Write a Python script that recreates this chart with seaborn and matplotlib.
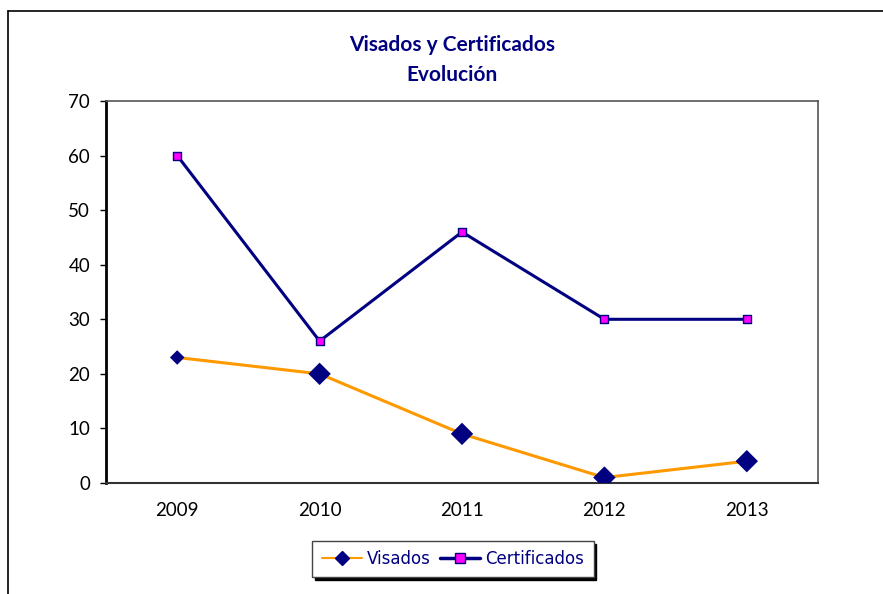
import matplotlib
matplotlib.use("Agg")
import matplotlib.pyplot as plt
import seaborn as sns
import pandas as pd
from matplotlib.lines import Line2D

years = ["2009", "2010", "2011", "2012", "2013"]
visados = [23, 20, 9, 1, 4]
certificados = [60, 26, 46, 30, 30]
visados_marker_sizes = [55, 130, 130, 130, 130]
yticks = [0, 10, 20, 30, 40, 50, 60, 70]

NAVY = "#000080"
ORANGE = "#FF9900"
MAGENTA = "#FF00FF"

sns.set_theme(style="white")
plt.rcParams["font.family"] = ["Lato", "DejaVu Sans"]

fig = plt.figure(figsize=(8.83, 5.94), dpi=100)
ax = fig.add_axes([106/883, 1-483/594, (818-106)/883, (483-101)/594])

df = pd.DataFrame({"year": years, "x": range(len(years)),
                   "Visados": visados, "Certificados": certificados,
                   "vs": visados_marker_sizes})

sns.lineplot(data=df, x="x", y="Certificados", ax=ax, color=NAVY, linewidth=2.2, zorder=3)
ax.scatter(df["x"], df["Certificados"], marker="s", s=40, color=MAGENTA,
           edgecolor=NAVY, linewidth=1.0, zorder=4)
sns.lineplot(data=df, x="x", y="Visados", ax=ax, color=ORANGE, linewidth=2.2, zorder=3)
ax.scatter(df["x"], df["Visados"], marker="D", s=df["vs"], color=NAVY,
           edgecolor=NAVY, linewidth=0, zorder=4)

ax.set_xlim(-0.5, len(years) - 0.5)
ax.set_ylim(0, 70)
ax.set_yticks(yticks)
ax.set_xticks(range(len(years)))
ax.set_xticklabels(years)
ax.set_xlabel("")
ax.set_ylabel("")
ax.tick_params(axis="y", direction="out", length=4.5, width=1, color="black",
               labelsize=13.5, pad=7, left=True)
ax.tick_params(axis="x", length=0, labelsize=13.5, pad=14)
for lab in ax.get_xticklabels() + ax.get_yticklabels():
    lab.set_color("black")

for side in ["top", "right"]:
    ax.spines[side].set_color("#555555")
    ax.spines[side].set_linewidth(1.2)
ax.spines["left"].set_color("black")
ax.spines["left"].set_linewidth(2)
ax.spines["bottom"].set_color("#333333")
ax.spines["bottom"].set_linewidth(1.5)
ax.grid(False)

fig.text(452/883, 1-45/594, "Visados y Certificados", ha="center", va="center",
         fontsize=15, fontweight="bold", color=NAVY)
fig.text(452/883, 1-75/594, "Evolución", ha="center", va="center",
         fontsize=15, fontweight="bold", color=NAVY)

# outer chart frame (partially visible)
fig.add_artist(Line2D([8/883, 8/883], [0, 1-11/594], transform=fig.transFigure,
                      color="black", linewidth=1.2))
fig.add_artist(Line2D([8/883, 1], [1-11/594, 1-11/594], transform=fig.transFigure,
                      color="black", linewidth=1.2))

handles = [
    Line2D([], [], color=ORANGE, linewidth=1.5, marker="D", markersize=7,
           markerfacecolor=NAVY, markeredgecolor=NAVY),
    Line2D([], [], color=NAVY, linewidth=2.5, marker="s", markersize=7,
           markerfacecolor=MAGENTA, markeredgecolor=NAVY),
]
leg = fig.legend(handles, ["Visados", "Certificados"], loc="center",
                 bbox_to_anchor=(453/883, 1-559/594), ncol=2, frameon=True,
                 fancybox=False, shadow={"color": "black", "alpha": 1},
                 prop={"family": "DejaVu Sans", "size": 12},
                 handlelength=2.4, handletextpad=0.3, columnspacing=0.6,
                 borderpad=0.55)
leg.get_frame().set_edgecolor("#444444")
leg.get_frame().set_linewidth(1.0)
for t in leg.get_texts():
    t.set_color(NAVY)

fig.savefig("out.png", dpi=100)
